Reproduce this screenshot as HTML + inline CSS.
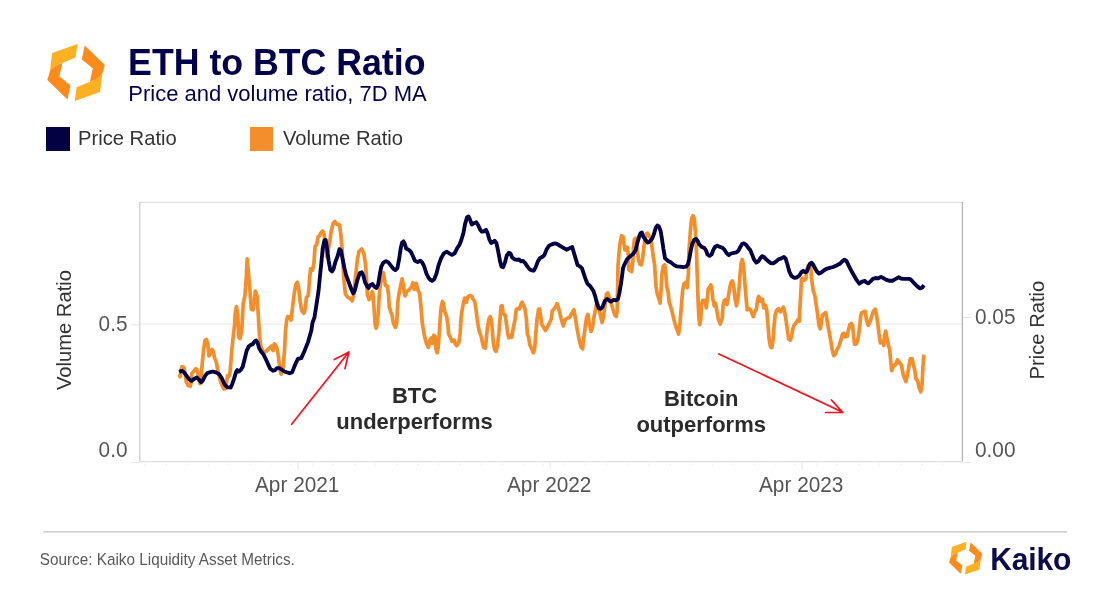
<!DOCTYPE html>
<html><head><meta charset="utf-8"><title>ETH to BTC Ratio</title>
<style>
html,body{margin:0;padding:0;background:#fff;}
body{width:1100px;height:594px;position:relative;overflow:hidden;font-family:"Liberation Sans",Arial,sans-serif;}
.t{position:absolute;white-space:nowrap;line-height:1;transform:scaleY(1.04);transform-origin:0 0;}
#title{left:128.1px;top:44.5px;font-size:35.7px;font-weight:bold;color:#03004b;}
#sub{left:128.3px;top:82.2px;font-size:22px;color:#03004b;}
.sw{position:absolute;width:23.9px;height:23.9px;top:127px;}
.lg{top:127.1px;font-size:20.2px;color:#333;}
.ax{font-size:20.8px;color:#555;}
.ann{font-size:22px;font-weight:bold;color:#2b2b2b;text-align:center;line-height:25.1px;}
#src{left:39.8px;top:551.2px;font-size:15.3px;color:#5a5a5a;}
#kaiko{left:990.3px;top:543.6px;font-size:30px;font-weight:bold;color:#0d0b4a;letter-spacing:-0.15px;}
svg{position:absolute;left:0;top:0;}
</style></head><body>
<svg width="1100" height="594" viewBox="0 0 1100 594">
<!-- frame -->
<line x1="140" y1="324.2" x2="962" y2="324.2" stroke="#f0f0f0" stroke-width="1.5"/>
<line x1="139.5" y1="202.4" x2="963" y2="202.4" stroke="#d6d6d6" stroke-width="0.9"/>
<line x1="139.8" y1="202" x2="139.8" y2="462" stroke="#c6c6c6" stroke-width="1.1"/>
<line x1="962.4" y1="202" x2="962.4" y2="462" stroke="#b4b4b4" stroke-width="1.3"/>
<line x1="139.5" y1="461.6" x2="963" y2="461.6" stroke="#dedede" stroke-width="1.3"/>
<line x1="131" y1="462.6" x2="139.5" y2="462.6" stroke="#e6e6e6" stroke-width="1"/>
<line x1="963" y1="462.6" x2="971" y2="462.6" stroke="#e6e6e6" stroke-width="1"/>
<line x1="131" y1="324.8" x2="139.3" y2="324.8" stroke="#e6e6e6" stroke-width="1.1"/>
<line x1="963" y1="317.5" x2="971" y2="317.5" stroke="#e6e6e6" stroke-width="1.1"/>
<line x1="144.8" y1="463.4" x2="144.8" y2="465.2" stroke="#eeeeee" stroke-width="1.3"/><line x1="166.2" y1="463.4" x2="166.2" y2="465.2" stroke="#eeeeee" stroke-width="1.3"/><line x1="186.9" y1="463.4" x2="186.9" y2="465.2" stroke="#eeeeee" stroke-width="1.3"/><line x1="208.3" y1="463.4" x2="208.3" y2="465.2" stroke="#eeeeee" stroke-width="1.3"/><line x1="229.1" y1="463.4" x2="229.1" y2="465.2" stroke="#eeeeee" stroke-width="1.3"/><line x1="250.5" y1="463.4" x2="250.5" y2="465.2" stroke="#eeeeee" stroke-width="1.3"/><line x1="271.9" y1="463.4" x2="271.9" y2="465.2" stroke="#eeeeee" stroke-width="1.3"/><line x1="291.2" y1="463.4" x2="291.2" y2="465.2" stroke="#eeeeee" stroke-width="1.3"/><line x1="312.6" y1="463.4" x2="312.6" y2="465.2" stroke="#eeeeee" stroke-width="1.3"/><line x1="333.3" y1="463.4" x2="333.3" y2="465.2" stroke="#eeeeee" stroke-width="1.3"/><line x1="354.7" y1="463.4" x2="354.7" y2="465.2" stroke="#eeeeee" stroke-width="1.3"/><line x1="375.4" y1="463.4" x2="375.4" y2="465.2" stroke="#eeeeee" stroke-width="1.3"/><line x1="396.8" y1="463.4" x2="396.8" y2="465.2" stroke="#eeeeee" stroke-width="1.3"/><line x1="418.2" y1="463.4" x2="418.2" y2="465.2" stroke="#eeeeee" stroke-width="1.3"/><line x1="438.9" y1="463.4" x2="438.9" y2="465.2" stroke="#eeeeee" stroke-width="1.3"/><line x1="460.3" y1="463.4" x2="460.3" y2="465.2" stroke="#eeeeee" stroke-width="1.3"/><line x1="481.1" y1="463.4" x2="481.1" y2="465.2" stroke="#eeeeee" stroke-width="1.3"/><line x1="502.5" y1="463.4" x2="502.5" y2="465.2" stroke="#eeeeee" stroke-width="1.3"/><line x1="523.9" y1="463.4" x2="523.9" y2="465.2" stroke="#eeeeee" stroke-width="1.3"/><line x1="543.2" y1="463.4" x2="543.2" y2="465.2" stroke="#eeeeee" stroke-width="1.3"/><line x1="564.6" y1="463.4" x2="564.6" y2="465.2" stroke="#eeeeee" stroke-width="1.3"/><line x1="585.3" y1="463.4" x2="585.3" y2="465.2" stroke="#eeeeee" stroke-width="1.3"/><line x1="606.7" y1="463.4" x2="606.7" y2="465.2" stroke="#eeeeee" stroke-width="1.3"/><line x1="627.4" y1="463.4" x2="627.4" y2="465.2" stroke="#eeeeee" stroke-width="1.3"/><line x1="648.8" y1="463.4" x2="648.8" y2="465.2" stroke="#eeeeee" stroke-width="1.3"/><line x1="670.2" y1="463.4" x2="670.2" y2="465.2" stroke="#eeeeee" stroke-width="1.3"/><line x1="690.9" y1="463.4" x2="690.9" y2="465.2" stroke="#eeeeee" stroke-width="1.3"/><line x1="712.3" y1="463.4" x2="712.3" y2="465.2" stroke="#eeeeee" stroke-width="1.3"/><line x1="733.1" y1="463.4" x2="733.1" y2="465.2" stroke="#eeeeee" stroke-width="1.3"/><line x1="754.5" y1="463.4" x2="754.5" y2="465.2" stroke="#eeeeee" stroke-width="1.3"/><line x1="775.9" y1="463.4" x2="775.9" y2="465.2" stroke="#eeeeee" stroke-width="1.3"/><line x1="795.2" y1="463.4" x2="795.2" y2="465.2" stroke="#eeeeee" stroke-width="1.3"/><line x1="816.6" y1="463.4" x2="816.6" y2="465.2" stroke="#eeeeee" stroke-width="1.3"/><line x1="837.3" y1="463.4" x2="837.3" y2="465.2" stroke="#eeeeee" stroke-width="1.3"/><line x1="858.7" y1="463.4" x2="858.7" y2="465.2" stroke="#eeeeee" stroke-width="1.3"/><line x1="879.4" y1="463.4" x2="879.4" y2="465.2" stroke="#eeeeee" stroke-width="1.3"/><line x1="900.8" y1="463.4" x2="900.8" y2="465.2" stroke="#eeeeee" stroke-width="1.3"/><line x1="922.2" y1="463.4" x2="922.2" y2="465.2" stroke="#eeeeee" stroke-width="1.3"/><line x1="942.9" y1="463.4" x2="942.9" y2="465.2" stroke="#eeeeee" stroke-width="1.3"/>
<line x1="298.1" y1="462.5" x2="298.1" y2="469.5" stroke="#ececec" stroke-width="1.2"/>
<line x1="550.1" y1="462.5" x2="550.1" y2="469.5" stroke="#ececec" stroke-width="1.2"/>
<line x1="802.1" y1="462.5" x2="802.1" y2="469.5" stroke="#ececec" stroke-width="1.2"/>
<!-- series -->
<polyline points="179.2,374.1 180.1,376.8 181.0,369.4 182.1,366.7 184.1,367.8 185.1,373.5 186.2,381.6 188.2,385.6 190.2,386.3 191.3,381.6 191.8,373.5 193.6,371.5 195.6,368.8 196.9,369.4 198.3,374.8 199.9,383.6 201.2,376.2 202.3,362.7 203.7,349.2 205.0,340.5 206.4,339.5 207.7,343.9 209.0,356.0 210.4,353.3 212.0,349.5 213.4,351.9 214.4,357.3 216.5,362.7 217.8,370.8 219.8,378.9 221.8,384.9 223.9,389.0 225.9,388.3 226.6,381.6 227.6,375.5 229.0,376.2 229.9,373.5 230.9,362.7 231.9,349.2 233.3,335.8 234.6,325.0 235.1,314.6 236.4,306.6 237.8,314.6 238.7,337.1 240.0,338.5 241.8,330.0 243.2,303.9 244.9,295.8 246.3,276.9 247.2,258.8 248.6,274.2 249.9,290.4 251.3,309.2 253.0,309.9 253.9,303.9 255.3,291.1 257.0,295.8 258.0,310.6 259.5,335.8 260.9,346.5 262.9,351.3 264.9,351.9 266.9,350.6 269.6,347.9 271.7,345.9 273.0,350.6 274.3,343.9 275.7,345.2 277.0,348.6 278.4,356.0 279.3,364.0 280.0,369.4 281.1,374.1 282.8,370.7 284.5,350.5 285.6,330.0 286.7,320.0 287.6,316.6 289.6,317.3 291.0,320.0 292.3,309.2 294.3,293.1 296.1,283.7 297.4,282.3 298.8,289.0 300.1,301.2 301.7,310.6 303.8,313.3 305.1,309.2 306.5,297.1 308.2,295.8 309.6,279.6 310.5,268.9 312.5,270.2 313.9,263.5 315.1,246.2 316.8,244.5 318.0,236.9 319.7,235.3 321.0,232.7 322.7,231.0 324.0,233.6 325.2,243.7 326.9,257.1 329.4,243.7 331.1,231.9 333.1,223.5 334.8,221.4 337.0,224.3 339.5,224.8 340.9,235.3 342.1,248.7 343.7,277.3 345.4,294.2 347.9,297.5 350.5,298.4 352.2,300.9 353.8,294.2 355.5,277.3 357.2,260.5 359.0,251.3 361.7,249.0 363.8,253.3 365.5,264.0 366.4,276.2 367.4,294.8 369.1,299.5 371.2,297.5 372.2,291.4 373.2,296.2 374.1,309.6 375.2,324.4 376.1,328.2 377.2,324.4 378.2,313.7 379.2,296.2 380.3,285.4 381.9,276.2 383.3,272.8 384.9,281.6 385.3,285.4 387.3,286.1 388.4,293.5 389.3,306.9 390.7,311.6 392.0,315.0 393.4,323.1 395.4,327.4 396.7,323.1 397.4,309.6 398.1,298.9 400.1,288.1 402.1,278.9 403.5,285.4 404.1,292.1 405.1,295.9 406.8,291.4 409.5,289.4 411.6,286.7 412.9,282.7 414.2,289.4 416.3,283.4 417.6,289.4 419.6,293.5 421.0,306.9 422.3,323.1 424.3,335.2 426.4,343.3 428.4,347.3 429.7,340.6 431.5,337.9 432.4,343.3 433.8,335.2 435.1,336.6 435.8,348.7 437.1,352.7 438.2,347.3 439.2,333.9 440.1,320.4 441.2,306.9 442.5,301.5 443.6,304.2 444.5,311.0 446.6,316.4 447.9,324.4 448.6,333.9 450.6,337.9 451.9,341.3 454.0,339.9 455.3,344.0 456.6,345.7 458.8,342.6 460.1,333.9 461.1,317.7 462.4,308.3 463.8,301.5 464.7,298.2 466.4,302.2 467.8,296.8 469.8,295.5 471.8,296.2 473.2,299.5 474.5,300.9 475.9,308.3 477.2,319.0 478.6,328.5 479.9,333.2 481.3,336.6 482.6,343.3 483.5,347.3 485.3,348.0 486.2,340.6 487.3,328.5 488.7,319.7 490.3,316.6 491.4,320.4 492.4,331.2 493.4,343.3 494.7,350.0 496.1,351.4 497.4,346.0 498.8,333.9 500.1,317.7 501.0,306.3 502.1,305.6 503.2,313.7 505.1,315.0 506.4,323.1 507.8,333.9 508.9,337.9 510.5,335.2 511.8,337.2 513.2,328.5 514.9,320.4 516.3,309.6 517.6,308.5 519.6,308.9 521.0,304.2 522.1,302.2 523.7,305.6 525.0,308.9 526.4,319.0 527.4,333.9 528.8,337.9 529.7,344.6 531.7,348.7 533.4,352.7 534.7,348.7 535.8,333.9 537.1,319.0 538.5,309.6 539.6,308.9 540.5,315.0 541.8,324.4 543.9,327.8 545.5,330.5 547.2,327.8 549.3,323.1 551.3,319.0 552.2,311.0 554.0,308.9 555.7,306.9 557.0,303.7 558.8,309.0 561.1,318.5 563.3,325.9 565.1,319.8 567.1,318.5 569.8,317.1 571.8,313.1 573.9,309.7 575.2,317.1 577.2,329.2 579.2,340.0 581.3,347.4 582.6,348.8 583.9,337.3 585.3,326.6 586.6,317.1 588.0,314.4 589.3,323.9 591.1,331.3 592.7,326.6 594.0,317.1 596.1,306.4 597.4,302.3 599.4,310.4 600.8,317.1 602.1,322.5 603.5,317.1 605.1,303.7 606.4,294.2 607.8,292.9 609.1,296.9 610.9,302.3 612.9,309.0 614.9,315.1 616.3,316.5 617.2,310.4 618.0,266.2 619.0,252.7 620.3,241.9 621.6,235.9 623.0,236.5 623.9,243.3 625.0,250.0 626.4,247.3 627.4,247.6 628.4,255.4 628.8,269.5 630.4,270.9 631.7,271.6 632.8,262.1 633.4,248.7 634.4,239.2 635.8,238.2 637.1,248.7 638.5,259.4 639.8,264.1 641.2,264.8 642.5,259.4 643.9,247.3 644.9,239.2 646.3,233.9 647.6,233.2 649.3,236.5 650.9,237.2 651.9,246.0 653.3,256.7 654.6,264.8 656.0,286.2 657.3,294.2 659.0,299.0 660.1,303.1 661.1,289.6 662.0,273.5 663.3,266.1 664.7,264.7 665.8,273.5 666.8,286.9 668.2,292.3 669.1,301.7 671.2,308.5 673.2,316.6 675.2,324.6 677.2,330.0 678.6,334.1 679.9,324.6 681.3,307.1 682.6,291.0 683.9,284.2 686.0,282.2 687.3,287.6 688.4,273.5 688.9,252.1 690.3,231.9 691.6,218.5 693.0,215.8 694.3,218.5 695.4,231.9 696.5,252.1 697.4,280.2 698.1,300.4 698.8,316.6 699.7,324.6 700.8,319.2 701.5,304.4 702.8,300.4 705.1,300.4 706.2,307.8 707.2,300.4 708.2,288.9 709.5,287.6 710.9,284.9 711.8,289.6 712.9,299.0 714.2,305.8 715.6,303.1 716.9,311.2 718.3,319.2 720.3,324.0 722.3,317.9 723.0,305.8 724.3,300.4 725.7,299.7 727.0,304.4 728.4,296.4 729.7,288.3 731.1,282.2 732.4,280.9 733.8,286.9 735.1,299.0 736.5,305.8 737.8,299.0 739.2,286.9 740.1,273.5 741.2,262.7 742.2,259.5 743.6,265.4 744.1,273.5 745.2,286.9 746.3,300.4 747.2,309.8 748.6,308.5 750.6,309.8 751.9,313.2 753.3,316.6 754.6,312.5 756.3,309.2 757.7,299.8 758.8,296.4 760.4,301.2 762.4,299.1 763.8,307.9 765.5,305.2 766.8,310.6 767.8,322.7 769.1,338.9 770.5,346.9 771.8,347.6 773.2,338.9 774.1,325.4 775.2,314.6 776.5,310.6 778.6,308.6 780.3,311.9 781.9,310.6 783.3,307.2 784.6,311.9 786.0,320.0 787.3,329.4 788.7,338.9 790.3,340.2 791.6,336.2 792.7,329.4 794.0,325.4 796.1,322.7 797.8,320.0 799.2,321.4 799.7,311.9 800.5,298.5 801.5,278.9 802.8,278.2 804.1,280.2 805.9,278.9 806.8,270.8 808.2,265.4 809.5,264.7 810.9,269.4 811.6,278.9 813.2,290.4 814.9,295.8 816.3,305.2 817.6,314.6 819.0,325.4 820.3,328.8 821.2,324.0 822.3,315.3 823.9,313.9 825.7,312.6 827.0,320.0 828.4,328.1 829.7,334.8 831.1,342.9 832.4,351.0 833.8,355.7 835.5,353.7 837.1,349.6 839.2,345.6 841.2,338.9 842.5,334.1 843.9,333.2 845.2,336.8 847.2,336.2 848.6,329.4 849.9,324.7 851.3,323.4 852.6,325.4 853.6,336.2 854.6,344.2 856.0,344.2 857.3,341.6 858.7,334.8 859.8,325.4 860.7,316.0 861.6,312.6 863.4,311.9 865.2,311.4 866.5,320.2 868.2,325.3 869.9,321.9 871.6,316.8 873.3,311.4 875.3,309.3 876.6,315.2 877.8,323.6 879.0,333.7 880.4,342.9 882.4,341.2 883.7,345.5 884.6,335.4 885.7,331.1 887.1,338.7 888.4,345.5 889.6,348.8 890.5,358.9 891.8,370.7 893.5,365.7 895.5,364.8 897.5,359.8 899.7,363.1 901.4,364.8 903.1,374.1 904.8,379.1 905.9,381.6 907.6,374.1 909.0,365.7 910.3,358.9 912.0,358.6 913.2,364.0 914.9,370.7 916.0,379.1 917.7,380.8 919.1,387.5 920.8,391.8 922.1,384.2 922.9,367.3 923.8,354.7" fill="none" stroke="#f28e2b" stroke-width="3.7" stroke-linejoin="round" stroke-linecap="butt"/>
<polyline points="179.2,371.9 182.1,370.8 184.1,372.4 186.8,376.2 189.5,379.5 191.5,380.9 194.2,378.9 196.9,377.5 198.9,379.5 201.2,382.2 203.0,380.2 205.3,375.5 207.7,372.8 210.4,372.1 212.8,371.5 215.8,372.4 219.1,374.1 221.8,378.2 224.5,384.2 227.2,387.2 230.6,387.6 232.2,384.2 234.0,378.9 236.0,372.1 237.3,370.1 238.9,371.5 240.7,370.1 242.7,366.7 244.7,358.7 246.7,350.6 248.8,346.3 250.8,344.9 252.8,344.1 254.8,341.2 256.2,340.5 257.5,342.5 259.1,347.9 260.9,351.3 263.6,354.6 265.9,359.3 268.3,364.7 270.3,368.8 273.0,370.8 275.0,370.1 277.0,368.1 279.4,368.2 284.5,371.5 289.5,373.2 292.1,372.4 295.4,364.0 297.9,358.9 301.3,358.1 304.7,350.5 308.0,342.1 311.4,330.3 312.5,322.7 314.5,317.3 316.6,303.9 318.6,290.4 319.9,276.9 321.3,263.5 322.7,248.7 324.4,240.3 325.7,240.0 326.9,247.0 328.6,260.5 330.3,269.8 332.0,271.4 333.6,268.9 335.3,262.2 337.8,255.5 339.5,249.1 340.9,250.4 342.6,258.8 344.6,268.9 346.3,275.7 348.8,282.4 351.3,289.1 353.3,293.3 354.7,290.8 357.2,280.7 359.7,273.1 361.8,272.3 363.4,275.7 365.1,282.4 367.3,286.6 368.5,288.0 370.5,284.9 372.5,284.0 374.5,286.9 376.5,288.0 378.2,284.2 379.9,273.5 381.3,266.7 383.3,262.7 386.0,261.1 388.4,262.4 390.7,265.4 393.4,268.8 395.4,270.1 397.4,268.1 399.2,258.7 400.8,247.9 402.1,242.5 403.5,241.4 404.8,243.9 406.2,248.6 408.9,249.9 410.9,251.9 412.9,256.0 414.9,260.7 417.6,262.0 420.3,260.7 422.3,262.7 424.3,266.7 426.4,273.5 428.4,277.5 430.4,279.9 432.0,280.9 434.4,278.9 436.5,273.5 438.5,265.4 441.2,258.0 443.9,253.3 446.6,251.7 449.3,253.3 451.9,254.9 454.6,253.3 457.3,247.9 459.3,245.2 461.4,239.8 463.4,233.1 465.1,223.9 467.1,217.1 468.5,216.4 470.1,219.8 471.8,224.5 473.9,223.2 476.3,222.2 478.2,225.2 480.3,229.9 481.9,231.7 483.9,231.3 486.0,229.9 487.6,233.3 489.3,239.3 491.1,243.0 493.0,242.0 494.7,240.7 496.5,243.4 498.1,250.8 500.1,261.6 501.5,266.7 503.2,267.2 504.8,262.9 506.8,255.5 508.9,252.8 510.5,253.5 512.2,257.5 514.2,259.1 516.9,259.9 519.0,259.5 521.0,261.3 523.0,260.9 525.0,262.9 527.7,266.9 529.7,269.4 531.7,270.3 533.8,270.7 535.8,266.9 537.8,261.6 539.8,258.2 542.5,256.8 544.5,254.8 546.6,249.4 549.3,245.4 551.9,244.3 554.6,243.4 557.3,244.0 559.0,245.3 563.1,247.6 566.4,249.7 569.1,248.4 572.2,247.0 573.9,252.7 575.9,259.4 577.6,265.1 579.9,266.4 581.9,268.2 583.9,274.2 586.0,280.3 587.6,283.9 590.3,286.2 593.4,290.9 595.4,296.9 597.0,303.7 598.8,308.4 600.8,308.8 602.8,306.4 604.8,301.0 607.2,298.9 608.9,300.3 610.9,301.6 613.6,299.9 616.3,300.3 618.0,298.9 619.4,292.9 621.0,283.5 622.3,274.0 623.0,268.2 624.3,264.8 627.0,259.4 630.4,256.1 633.1,254.0 635.5,250.7 637.1,243.9 639.2,236.5 640.5,233.2 641.8,232.5 643.2,236.5 645.5,239.9 647.9,242.6 649.9,241.3 652.2,238.6 654.0,233.9 655.7,227.8 657.3,225.5 658.9,226.4 660.7,231.2 662.0,239.2 663.4,248.7 665.0,258.1 666.4,259.5 668.5,261.3 671.2,262.6 673.9,264.9 676.5,266.3 679.9,266.7 683.3,267.2 686.0,266.7 688.0,264.2 689.3,258.9 690.7,250.8 692.4,243.4 694.3,239.7 696.1,238.9 697.8,241.1 699.4,244.7 701.9,247.0 704.1,247.8 705.9,250.1 707.5,254.5 709.5,255.9 711.6,254.5 713.2,250.1 714.9,247.0 717.2,245.7 719.6,246.7 722.3,247.8 724.3,249.4 726.4,252.8 728.8,255.1 731.1,253.5 733.8,252.8 736.5,252.4 738.5,250.5 740.5,246.7 742.2,243.8 743.9,243.4 745.9,244.7 747.9,247.4 750.3,250.1 751.9,254.1 754.0,259.5 756.3,262.6 758.4,261.3 760.3,258.2 762.0,256.2 763.8,256.8 765.0,258.2 767.8,260.7 770.5,263.0 773.2,263.4 775.9,261.6 778.6,259.3 781.3,258.4 783.9,257.0 785.7,258.7 787.3,264.0 789.3,271.5 791.4,275.9 794.0,277.8 796.7,277.5 799.4,275.5 801.5,272.1 803.2,270.8 805.1,272.4 806.8,271.5 808.6,266.7 810.2,263.4 811.6,262.7 813.2,264.7 814.9,268.1 816.9,271.5 819.0,273.5 821.0,272.8 823.7,270.5 826.4,268.8 829.7,267.8 833.1,267.0 836.5,265.4 839.8,263.8 842.5,261.1 844.5,259.7 846.6,261.1 848.6,265.4 851.3,270.8 854.0,275.5 856.7,280.2 859.3,283.6 862.0,281.6 865.0,280.9 866.2,282.3 868.2,283.4 870.2,281.6 872.9,278.9 875.6,278.0 878.3,278.3 881.0,276.9 883.7,278.3 886.4,279.9 889.0,280.7 892.4,280.7 895.8,278.9 898.5,277.3 900.9,278.5 903.9,278.9 907.2,278.9 909.9,278.9 911.9,280.7 914.6,283.7 917.3,286.4 920.0,288.4 922.0,287.7 924.1,285.3" fill="none" stroke="#030044" stroke-width="3.85" stroke-linejoin="round" stroke-linecap="butt"/>
<!-- arrows -->
<g stroke="#fa0f1e" stroke-width="1.7" fill="none" stroke-linecap="round" stroke-linejoin="round">
<path d="M291.6 424.3 L348.9 352 M334.3 359.5 L348.9 352 L345 368.6"/>
<path d="M718.9 353.9 L842.7 412.3 M831.4 400 L842.7 412.3 L825.7 412.5"/>
</g>
<!-- logo big -->
<g id="lg" >
<path d="M52.2 52.9 L77.4 43.9 L75.6 57.6 L62.3 63 C56 65 52.4 67.5 49.8 71.5 Z" fill="#fdb022"/>
<path d="M49.8 71.5 C52.4 67.5 56 65 62.3 63 L59.4 76.5 L70.4 85.3 L67.5 99.4 L47.3 79.9 Z" fill="#fd8b1c"/>
<g transform="rotate(180 76.1 72.4)">
<path d="M52.2 52.9 L77.4 43.9 L75.6 57.6 L62.3 63 C56 65 52.4 67.5 49.8 71.5 Z" fill="#fdb022"/>
<path d="M49.8 71.5 C52.4 67.5 56 65 62.3 63 L59.4 76.5 L70.4 85.3 L67.5 99.4 L47.3 79.9 Z" fill="#fd8b1c"/>
</g>
</g>
<!-- logo small -->
<g transform="translate(965.7 558.15) scale(0.578) translate(-76.1 -72.4)">
<path d="M52.2 52.9 L77.4 43.9 L75.6 57.6 L62.3 63 C56 65 52.4 67.5 49.8 71.5 Z" fill="#fdb022"/>
<path d="M49.8 71.5 C52.4 67.5 56 65 62.3 63 L59.4 76.5 L70.4 85.3 L67.5 99.4 L47.3 79.9 Z" fill="#fd8b1c"/>
<g transform="rotate(180 76.1 72.4)">
<path d="M52.2 52.9 L77.4 43.9 L75.6 57.6 L62.3 63 C56 65 52.4 67.5 49.8 71.5 Z" fill="#fdb022"/>
<path d="M49.8 71.5 C52.4 67.5 56 65 62.3 63 L59.4 76.5 L70.4 85.3 L67.5 99.4 L47.3 79.9 Z" fill="#fd8b1c"/>
</g>
</g>
<line x1="43.3" y1="531.9" x2="1067" y2="531.9" stroke="#c2c2c2" stroke-width="1.25"/>
</svg>
<div class="t" id="title">ETH to BTC Ratio</div>
<div class="t" id="sub">Price and volume ratio, 7D MA</div>
<div class="sw" style="left:45.9px;background:#030044"></div>
<div class="t lg" id="l1" style="left:78px">Price Ratio</div>
<div class="sw" style="left:249.5px;background:#f28e2b"></div>
<div class="t lg" id="l2" style="left:283px">Volume Ratio</div>
<div class="t ax" id="y05" style="left:98.6px;top:312.8px">0.5</div>
<div class="t ax" id="y00" style="left:98.6px;top:438.7px">0.0</div>
<div class="t ax" id="r05" style="left:975px;top:306.1px">0.05</div>
<div class="t ax" id="r00" style="left:975px;top:438.7px">0.00</div>
<div class="t ax" id="x1" style="left:255px;top:474.2px">Apr 2021</div>
<div class="t ax" id="x2" style="left:507px;top:474.2px">Apr 2022</div>
<div class="t ax" id="x3" style="left:759px;top:474.2px">Apr 2023</div>
<div class="t lg" id="vl" style="left:4.1px;top:320px;width:120px;text-align:center;transform:rotate(-90deg) scaleY(1.04);transform-origin:50% 50%;">Volume Ratio</div>
<div class="t lg" id="pl" style="left:977px;top:319.5px;width:120px;text-align:center;transform:rotate(-90deg) scaleY(1.04);transform-origin:50% 50%;">Price Ratio</div>
<div class="t ann" id="a1" style="left:314.5px;top:382.1px;width:200px;">BTC<br>underperforms</div>
<div class="t ann" id="a2" style="left:601.2px;top:384.5px;width:200px;">Bitcoin<br>outperforms</div>
<div class="t" id="src">Source: Kaiko Liquidity Asset Metrics.</div>
<div class="t" id="kaiko">Kaiko</div>
</body></html>
